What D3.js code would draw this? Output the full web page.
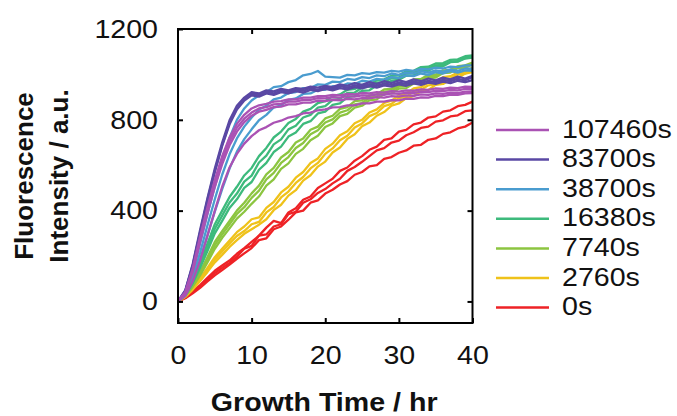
<!DOCTYPE html>
<html>
<head>
<meta charset="utf-8">
<script src="https://cdn.jsdelivr.net/npm/d3@7"></script>
<style>
  html, body { margin: 0; padding: 0; background: #ffffff; }
  svg { display: block; }
  text { font-family: "Liberation Sans", Arial, Helvetica, sans-serif; fill: #111; }
</style>
</head>
<body>
<svg id="chart" width="677" height="416"></svg>
<script>
// ---------- data ----------
const times = [0,1,2,3,4,5,6,7,8,9,10,11,12,13,14,15,16,17,18,19,20,21,22,23,24,25,26,27,28,29,30,31,32,33,34,35,36,37,38,39,40];

const xTicks = [0, 10, 20, 30, 40];
const yTicks = [0, 400, 800, 1200];

const seriesNames  = ["107460s", "83700s", "38700s", "16380s", "7740s", "2760s", "0s"];
const seriesColors = ["#aa52b4", "#5a48a4", "#4a9ccf", "#3dba7c", "#8cc540", "#efc21a", "#ee2226"];

// replicate curves, fluorescence intensity (a.u.) at each hour
const curves0s = [
  [0,18,44,72,104,135,158,180,210,235,262,290,325,355,345,392,410,448,462,500,520,540,575,590,620,640,668,682,712,718,748,756,780,788,810,815,836,842,860,866,880],
  [0,16,40,66,96,125,148,170,198,232,245,290,295,330,340,385,395,435,450,478,495,520,540,575,592,615,640,665,675,700,708,732,745,764,770,792,798,815,820,838,842],
  [0,14,36,60,88,115,138,162,188,212,235,270,278,318,330,360,392,400,435,445,475,492,515,530,558,570,595,600,628,636,655,665,686,690,712,718,738,745,762,770,788]
];
const curves2760s = [
  [0,24,60,102,148,195,232,268,305,330,362,370,412,438,480,505,545,570,610,630,672,695,732,750,785,800,832,846,874,884,908,916,938,944,964,968,988,992,1008,1012,1030],
  [0,20,52,90,130,172,205,240,270,298,318,338,362,402,426,466,490,532,556,594,616,656,678,716,736,772,788,818,834,862,872,896,904,926,932,954,958,978,984,1004,1010],
  [0,22,56,96,140,185,220,255,288,310,340,350,392,416,458,484,522,548,586,610,650,674,710,730,766,784,816,830,860,870,896,902,924,932,952,956,976,982,1000,1004,1020]
];
const curves7740s = [
  [0,28,75,130,195,262,310,355,400,435,476,510,560,588,634,658,700,718,756,770,806,818,848,856,882,886,908,912,934,936,956,958,978,980,998,1000,1018,1020,1036,1040,1052],
  [0,24,65,115,172,232,280,322,365,395,430,462,510,538,584,608,650,672,710,730,768,784,816,826,854,862,886,890,914,916,938,940,960,962,984,986,1006,1008,1028,1030,1044],
  [0,26,70,122,182,248,295,340,385,415,456,488,538,566,610,636,676,698,736,754,788,802,832,842,868,874,898,902,924,926,948,950,970,972,992,994,1012,1014,1032,1034,1048]
];
const curves16380s = [
  [0,32,92,170,255,340,400,460,505,555,588,640,676,722,748,786,804,836,848,874,882,904,912,932,936,954,956,974,978,994,996,1014,1016,1032,1034,1048,1050,1064,1066,1080,1084],
  [0,28,80,148,222,300,355,412,450,500,526,580,610,658,682,726,744,782,794,828,836,866,872,900,904,928,930,952,954,972,976,994,996,1014,1016,1034,1036,1054,1056,1070,1074],
  [0,30,86,158,238,320,378,436,475,528,554,612,642,692,714,758,774,810,822,854,860,888,892,918,920,942,946,964,966,984,986,1004,1006,1024,1026,1040,1042,1056,1058,1072,1078]
];
const curves38700s = [
  [0,38,125,255,385,505,620,720,800,850,885,908,922,944,948,966,975,996,1002,1015,990,988,986,998,996,1006,1002,1010,1008,1016,1012,1020,1016,1024,1022,1030,1026,1034,1032,1040,1040],
  [0,32,105,215,335,450,558,648,718,770,810,845,862,890,898,918,922,940,940,956,954,968,966,980,976,988,984,996,992,1004,998,1008,1004,1014,1008,1018,1012,1022,1016,1026,1025],
  [0,28,90,185,290,395,495,585,660,715,758,798,822,854,864,888,894,914,916,932,932,948,946,960,958,972,968,980,976,988,984,996,992,1004,998,1010,1004,1014,1008,1018,1016]
];
const curves83700s = [
  [0,50,165,315,455,585,700,798,862,898,922,916,930,925,936,930,940,936,946,942,950,944,956,950,962,954,966,958,970,962,974,966,978,970,982,974,986,978,990,982,994],
  [0,46,155,300,440,570,685,780,845,885,908,902,916,910,922,916,926,920,932,926,936,930,940,934,944,938,948,942,952,946,956,950,960,954,964,958,968,962,972,966,975],
  [0,48,160,305,448,575,690,788,850,890,915,910,924,916,930,922,934,928,940,932,944,936,948,942,952,946,956,950,960,954,964,958,968,962,972,966,976,970,980,974,988]
];
const curves107460s = [
  [0,42,145,285,415,535,640,722,782,822,850,864,870,880,882,890,890,898,898,904,904,910,908,914,912,918,916,922,920,926,924,930,928,934,932,938,936,942,940,946,945],
  [0,40,138,275,402,520,622,705,765,805,832,850,856,868,870,880,880,888,888,895,894,900,898,904,902,908,906,912,910,916,914,920,918,924,922,928,926,932,930,936,936],
  [0,38,130,262,388,505,605,688,748,790,818,836,844,856,858,868,868,876,876,884,882,888,886,892,890,896,894,900,898,904,902,908,906,912,910,916,914,920,918,924,925],
  [0,25,90,180,290,400,505,590,650,695,728,754,768,787,796,810,816,828,832,842,846,855,856,864,864,872,872,880,880,887,886,893,892,899,898,905,904,911,910,916,918]
];

// drawing order: bottom to top
const drawGroups = [
  { name: "0s",      curves: curves0s },
  { name: "2760s",   curves: curves2760s },
  { name: "7740s",   curves: curves7740s },
  { name: "16380s",  curves: curves16380s },
  { name: "38700s",  curves: curves38700s },
  { name: "83700s",  curves: curves83700s },
  { name: "107460s", curves: curves107460s }
];

// ---------- layout ----------
const W = 677, H = 416;
const plot = { left: 178, right: 472.5, top: 29, bottom: 323 };
const FONT = 26;
const STRETCH = 1.1; // horizontal widening of glyphs seen in the reference

const svg = d3.select("#chart");
svg.append("rect").attr("width", W).attr("height", H).attr("fill", "#fff");

const x = d3.scaleLinear().domain([0, 40]).range([plot.left, plot.right]);
const y = d3.scaleLinear().domain([-95, 1200]).range([plot.bottom, plot.top]);
const color = d3.scaleOrdinal().domain(seriesNames).range(seriesColors);

// clip
svg.append("defs").append("clipPath").attr("id", "clip")
  .append("rect").attr("x", plot.left).attr("y", plot.top)
  .attr("width", plot.right - plot.left).attr("height", plot.bottom - plot.top);

// lines
const line = d3.line().x((d, i) => x(times[i])).y(d => y(d));
const gLines = svg.append("g").attr("clip-path", "url(#clip)");
drawGroups.forEach(g => {
  g.curves.forEach(c => {
    gLines.append("path")
      .datum(c)
      .attr("d", line)
      .attr("fill", "none")
      .attr("stroke", color(g.name))
      .attr("stroke-width", 2.3)
      .attr("stroke-linejoin", "round");
  });
});

// axes (ticks pointing inward)
function styleAxis(g) {
  g.select(".domain").remove();
  g.selectAll(".tick line").attr("stroke", "#000").attr("stroke-width", 2);
  g.selectAll(".tick text").attr("font-size", FONT).attr("fill", "#111")
    .attr("font-family", "'Liberation Sans', Arial, Helvetica, sans-serif")
    .classed("wide", true);
}
svg.append("g").attr("transform", `translate(${plot.left},0)`)
  .call(d3.axisLeft(y).tickValues(yTicks).tickSize(-5).tickPadding(20).tickFormat(d3.format("d")))
  .call(styleAxis);
svg.append("g").attr("transform", `translate(${plot.right},0)`)
  .call(d3.axisRight(y).tickValues(yTicks.slice(0, 3)).tickSize(-5).tickFormat(""))
  .call(styleAxis);
svg.append("g").attr("transform", `translate(0,${plot.bottom})`)
  .call(d3.axisBottom(x).tickValues(xTicks).tickSize(-5).tickPadding(23).tickFormat(d3.format("d")))
  .call(styleAxis);
svg.append("g").attr("transform", `translate(0,${plot.top})`)
  .call(d3.axisTop(x).tickValues(xTicks.slice(1, 4)).tickSize(-5).tickFormat(""))
  .call(styleAxis);

// frame
svg.append("rect")
  .attr("x", plot.left).attr("y", plot.top)
  .attr("width", plot.right - plot.left).attr("height", plot.bottom - plot.top)
  .attr("fill", "none").attr("stroke", "#000").attr("stroke-width", 2);

// axis titles
svg.append("text")
  .attr("class", "wide")
  .attr("x", (plot.left + plot.right) / 2 - 1).attr("y", 411)
  .attr("text-anchor", "middle").attr("font-size", FONT).attr("font-weight", "bold")
  .text("Growth Time / hr");

const yTitle = svg.append("g").attr("transform", `translate(0,${(plot.top + plot.bottom) / 2}) rotate(-90)`);
yTitle.append("text").attr("x", 0).attr("y", 33)
  .attr("text-anchor", "middle").attr("font-size", FONT).attr("font-weight", "bold")
  .text("Fluorescence");
yTitle.append("text").attr("x", 0).attr("y", 68)
  .attr("text-anchor", "middle").attr("font-size", FONT).attr("font-weight", "bold")
  .text("Intensity / a.u.");

// legend
const legend = svg.append("g");
seriesNames.forEach((name, i) => {
  const ly = 130 + i * 29.6;
  legend.append("line")
    .attr("x1", 496).attr("x2", 549).attr("y1", ly).attr("y2", ly)
    .attr("stroke", color(name)).attr("stroke-width", 2.5);
  legend.append("text")
    .attr("class", "wide")
    .attr("x", 562).attr("y", ly + 7.5)
    .attr("font-size", FONT)
    .text(name);
});

// widen horizontal texts to match the reference glyph proportions
svg.selectAll("text.wide").each(function () {
  const len = this.getComputedTextLength();
  if (len > 0) {
    d3.select(this).attr("textLength", len * STRETCH).attr("lengthAdjust", "spacingAndGlyphs");
  }
});
</script>
</body>
</html>
